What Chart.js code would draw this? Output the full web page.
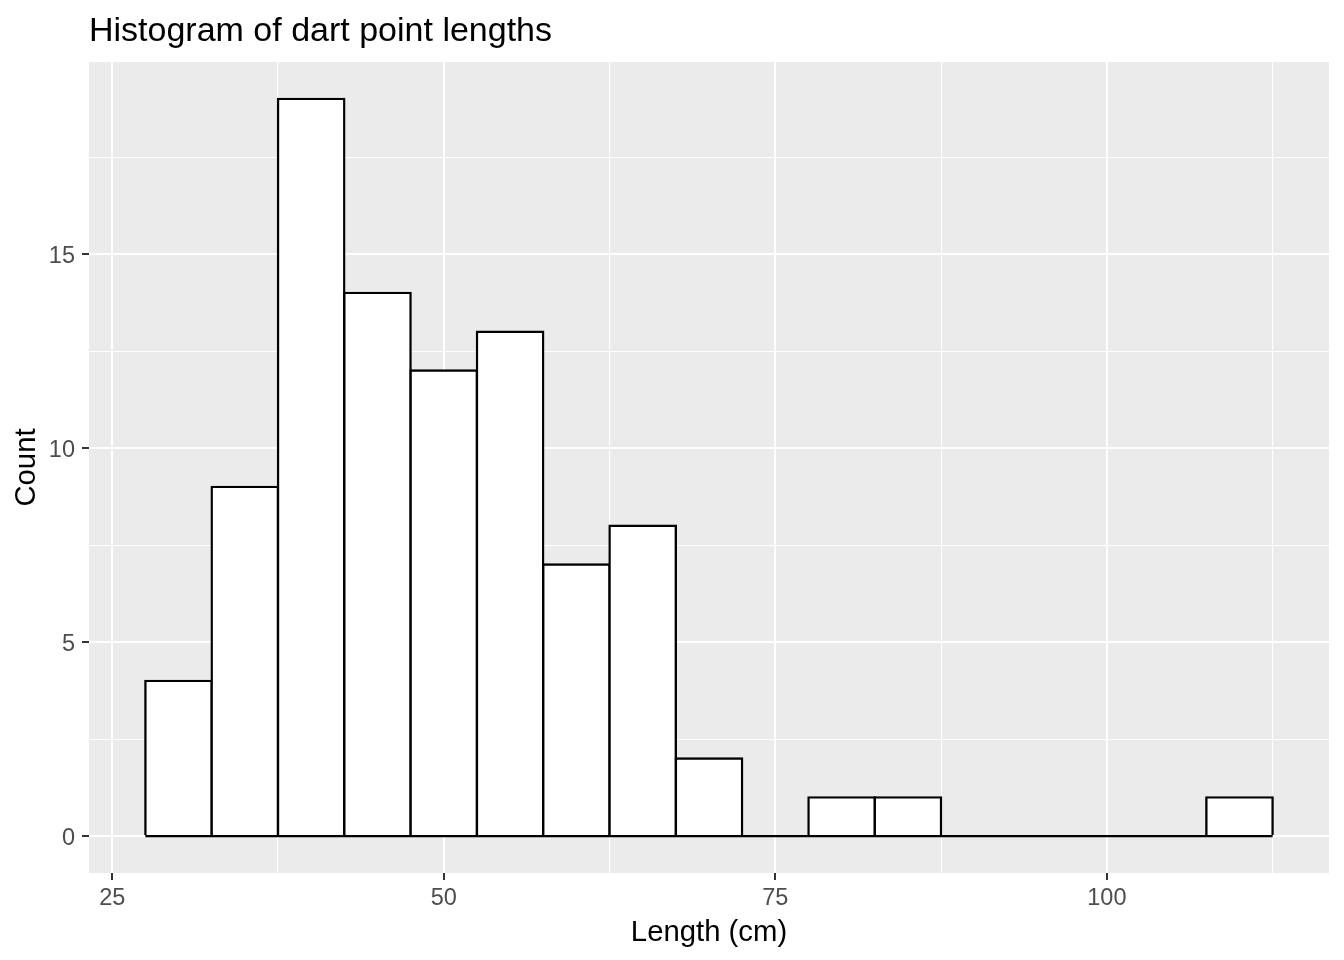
<!DOCTYPE html>
<html>
<head>
<meta charset="utf-8">
<script src="https://cdn.jsdelivr.net/npm/chart.js@4.4.1/dist/chart.umd.min.js"></script>
<style>
  html, body { margin: 0; padding: 0; background: #ffffff; }
  #wrap { width: 1344px; height: 960px; }
</style>
</head>
<body>
<div id="wrap"><canvas id="c" width="1344" height="960"></canvas></div>
<script>
// ---- data ----
const binCenters = [30, 35, 40, 45, 50, 55, 60, 65, 70, 75, 80, 85, 90, 95, 100, 105, 110];
const counts     = [4, 9, 19, 14, 12, 13, 7, 8, 2, 0, 1, 1, 0, 0, 0, 0, 1];
const binEdgesRange = [27.5, 112.5];
const xTickValues = [25, 37.5, 50, 62.5, 75, 87.5, 100, 112.5];
const xTickLabels = ['25', '', '50', '', '75', '', '100', ''];
const yTickValues = [0, 2.5, 5, 7.5, 10, 12.5, 15, 17.5];
const yTickLabels = ['0', '', '5', '', '10', '', '15', ''];
const xRange = [23.25, 116.75];
const yRange = [-0.95, 19.95];

const FONT = "'Liberation Sans', Arial, 'DejaVu Sans', sans-serif";
const xMajor = new Set(xTickValues.filter((v, i) => xTickLabels[i] !== ''));
const yMajor = new Set(yTickValues.filter((v, i) => yTickLabels[i] !== ''));

const panelBg = {
  id: 'panelBg',
  beforeDraw(chart) {
    const {ctx, chartArea: a} = chart;
    ctx.save();
    ctx.fillStyle = '#EBEBEB';
    ctx.fillRect(a.left, a.top, a.right - a.left, a.bottom - a.top);
    ctx.restore();
  }
};

const BW = 2.4;

new Chart(document.getElementById('c'), {
  type: 'bar',
  data: {
    datasets: [
      {
        type: 'bar',
        data: binCenters.map((x, i) => ({x: x, y: counts[i]})),
        backgroundColor: '#FFFFFF',
        borderColor: '#000000',
        borderSkipped: false,
        borderWidth: {top: BW, right: BW, bottom: 0, left: BW},
        inflateAmount: BW / 2,
        barPercentage: 1,
        categoryPercentage: 1,
        order: 0
      },
      {
        type: 'line',
        data: binEdgesRange.map(x => ({x: x, y: 0})),
        borderColor: '#000000',
        borderWidth: BW,
        pointRadius: 0,
        fill: false,
        order: -1
      }
    ]
  },
  options: {
    responsive: false,
    animation: false,
    events: [],
    layout: { padding: {left: 0, right: 15, top: 0, bottom: 0} },
    plugins: {
      legend: { display: false },
      tooltip: { enabled: false },
      title: {
        display: true,
        text: 'Histogram of dart point lengths',
        align: 'start',
        fullSize: false,
        color: '#000000',
        font: { family: FONT, size: 34, weight: 'normal', lineHeight: 1 },
        padding: { top: 14.6, bottom: 13.4 }
      }
    },
    scales: {
      x: {
        type: 'linear',
        position: 'bottom',
        min: xRange[0],
        max: xRange[1],
        offset: false,
        afterBuildTicks: (s) => { s.ticks = xTickValues.map(v => ({value: v})); },
        afterFit: (s) => { s.height = 87; },
        border: { display: false },
        grid: {
          offset: false,
          color: '#FFFFFF',
          lineWidth: (c) => (c.tick && xMajor.has(c.tick.value)) ? 2 : 1.1,
          drawTicks: true,
          tickLength: 7,
          tickColor: (c) => (c.tick && xMajor.has(c.tick.value)) ? '#333333' : 'rgba(0,0,0,0)',
          tickWidth: 2
        },
        ticks: {
          autoSkip: false,
          maxRotation: 0,
          padding: 7.25,
          color: '#4D4D4D',
          font: { family: FONT, size: 23.5, lineHeight: 1 },
          callback: (v, i) => xTickLabels[i]
        },
        title: {
          display: true,
          text: 'Length (cm)',
          color: '#000000',
          font: { family: FONT, size: 29.3, lineHeight: 1 },
          padding: { top: 0, bottom: 12.5 }
        }
      },
      y: {
        type: 'linear',
        position: 'left',
        min: yRange[0],
        max: yRange[1],
        afterBuildTicks: (s) => { s.ticks = yTickValues.map(v => ({value: v})); },
        afterFit: (s) => { s.width = 89; },
        border: { display: false },
        grid: {
          color: '#FFFFFF',
          lineWidth: (c) => (c.tick && yMajor.has(c.tick.value)) ? 2 : 1.1,
          drawTicks: true,
          tickLength: 7,
          tickColor: (c) => (c.tick && yMajor.has(c.tick.value)) ? '#333333' : 'rgba(0,0,0,0)',
          tickWidth: 2
        },
        ticks: {
          autoSkip: false,
          padding: 7,
          labelOffset: 2.5,
          color: '#4D4D4D',
          font: { family: FONT, size: 23.5, lineHeight: 1 },
          callback: (v, i) => yTickLabels[i]
        },
        title: {
          display: true,
          text: 'Count',
          color: '#000000',
          font: { family: FONT, size: 29.3, lineHeight: 1 },
          padding: { top: 12.6, bottom: 0 }
        }
      }
    }
  },
  plugins: [panelBg]
});
</script>
</body>
</html>
